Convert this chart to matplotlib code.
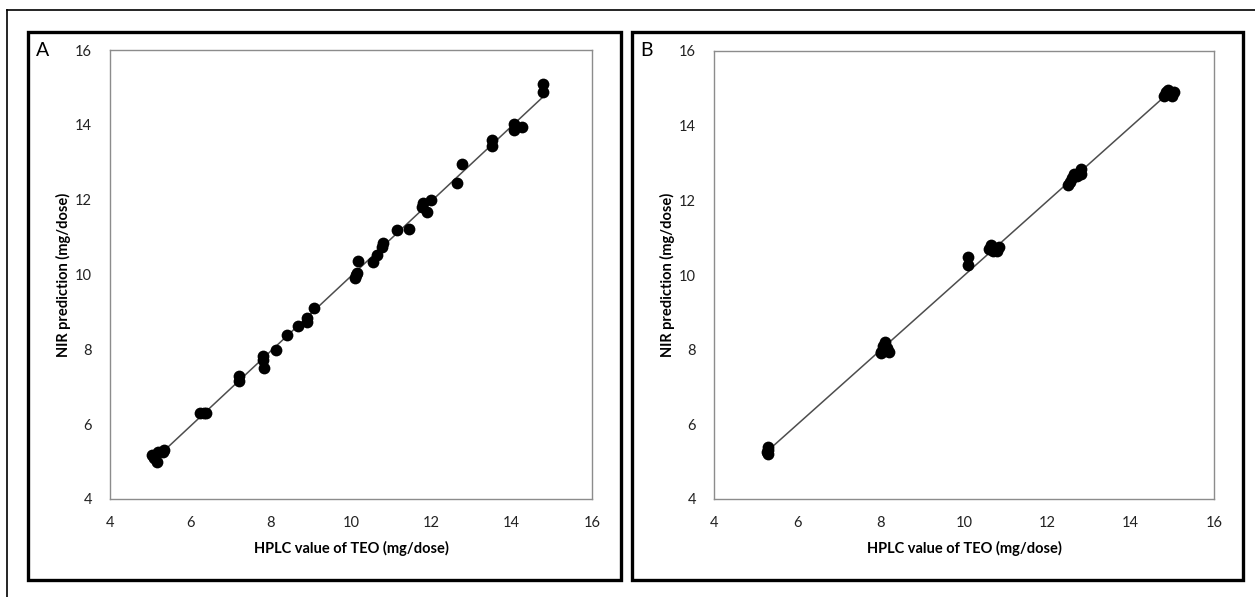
import numpy as np
import matplotlib
matplotlib.use("Agg")
import matplotlib.pyplot as plt
from matplotlib.patches import Rectangle
from matplotlib.lines import Line2D

plt.rcParams['font.family'] = ['Lato', 'DejaVu Sans']

# panel A: HPLC (x) vs NIR prediction (y)
hplc_a = [5.05, 5.1, 5.17, 5.2, 5.33, 5.35,
          6.25, 6.35, 6.4,
          7.2, 7.2,
          7.82, 7.82, 7.83,
          8.13, 8.4, 8.67, 8.9, 8.9,
          9.07,
          10.1, 10.15, 10.17, 10.12,
          10.55, 10.64, 10.77, 10.8,
          11.14, 11.45,
          11.8, 11.9, 12.0, 11.78,
          12.63, 12.76,
          13.5, 13.5,
          14.07, 14.07, 14.25,
          14.77, 14.77]
nir_a = [5.18, 5.1, 4.99, 5.25, 5.26, 5.3,
         6.3, 6.3, 6.3,
         7.3, 7.15,
         7.82, 7.72, 7.5,
         7.98, 8.38, 8.63, 8.84, 8.73,
         9.1,
         9.9, 10.04, 10.36, 10.0,
         10.34, 10.52, 10.74, 10.84,
         11.19, 11.22,
         11.9, 11.67, 12.0, 11.8,
         12.45, 12.96,
         13.6, 13.44,
         14.02, 13.86, 13.94,
         15.08, 14.88]

# panel B
hplc_b = [5.3, 5.3, 5.3, 5.28,
          8.1, 8.0, 8.1, 8.2, 8.05, 8.15, 8.0,
          10.1, 10.1,
          10.65, 10.75, 10.7, 10.85, 10.6, 10.8,
          12.5, 12.55, 12.6, 12.65, 12.8, 12.8, 12.7,
          14.8, 14.85, 14.95, 15.0, 15.05, 14.9]
nir_b = [5.4, 5.3, 5.2, 5.25,
         8.2, 7.95, 8.0, 7.95, 8.1, 8.05, 7.9,
         10.49, 10.27,
         10.8, 10.7, 10.65, 10.75, 10.7, 10.65,
         12.4, 12.5, 12.6, 12.7, 12.7, 12.85, 12.65,
         14.8, 14.9, 14.85, 14.8, 14.9, 14.95]

ticks = [4, 6, 8, 10, 12, 14, 16]

W, H = 1255, 597


def px_rect(x0, y0, x1, y1):
  # pixel box (top-left origin) -> figure fraction
  return [x0 / W, 1 - y1 / H, (x1 - x0) / W, (y1 - y0) / H]


def draw_panel(fig, ax, xs, ys, letter, box):
  x0, y0, x1, y1 = box
  fig.patches.append(Rectangle((x0 / W, 1 - y1 / H), (x1 - x0) / W, (y1 - y0) / H,
                               transform=fig.transFigure, fill=False,
                               edgecolor='black', linewidth=2.4))
  fig.text((x0 + 8) / W, 1 - 50 / H, letter, fontsize=14, va='center', ha='left')

  coef = np.polyfit(xs, ys, 1)
  lx = np.array([min(xs), max(xs)])
  ax.plot(lx, np.polyval(coef, lx), color='#4d4d4d', linewidth=1.1, zorder=2)
  ax.scatter(xs, ys, s=72, color='black', zorder=3, linewidths=0)

  ax.set_xlim(4, 16)
  ax.set_ylim(4, 16)
  ax.set_xticks(ticks)
  ax.set_yticks(ticks)
  ax.tick_params(length=0, labelsize=10.5, pad=12, colors='#222222')
  ax.tick_params(axis='y', pad=13)
  for s in ax.spines.values():
    s.set_color('#8c8c8c')
    s.set_linewidth(1.0)

  pos = ax.get_position()
  fig.text(pos.x0 + pos.width / 2, 1 - 548 / H, 'HPLC value of TEO (mg/dose)',
           fontsize=10.5, fontweight='bold', ha='center', va='center')
  fig.text((x0 + 35) / W, pos.y0 + pos.height / 2, 'NIR prediction (mg/dose)',
           fontsize=10.5, fontweight='bold', ha='center', va='center', rotation=90)


def main():
  fig = plt.figure(figsize=(W / 100, H / 100), dpi=100)

  # outer frame (only left and top edges visible)
  fig.lines.append(Line2D([7 / W, 7 / W], [0, 1 - 10 / H], transform=fig.transFigure,
                          color='black', linewidth=1.2))
  fig.lines.append(Line2D([7 / W, 1], [1 - 10 / H, 1 - 10 / H], transform=fig.transFigure,
                          color='black', linewidth=1.2))

  ax_a = fig.add_axes(px_rect(110, 50, 592, 499))
  draw_panel(fig, ax_a, hplc_a, nir_a, 'A', (28, 32, 621, 580))

  ax_b = fig.add_axes(px_rect(714, 51, 1214, 499))
  draw_panel(fig, ax_b, hplc_b, nir_b, 'B', (632, 32, 1243, 580))

  fig.savefig('out.png', dpi=100)


if __name__ == "__main__":
  main()
